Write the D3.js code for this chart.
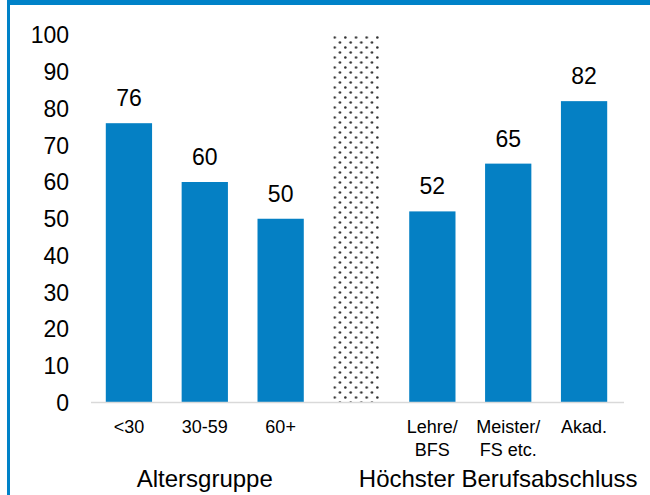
<!DOCTYPE html>
<html>
<head>
<meta charset="utf-8">
<script src="https://cdn.jsdelivr.net/npm/d3@7"></script>
<style>
  body { margin: 0; background: #fff; }
  text { font-family: "Liberation Sans", Arial, sans-serif; fill: #000; }
</style>
</head>
<body>
<div id="wrapper"></div>
<script>
// data
const categories = ['<30', '30-59', '60+', 'sep', 'Lehre/\nBFS', 'Meister/\nFS etc.', 'Akad.']
const values = [76, 60, 50, null, 52, 65, 82]
const groupNames = ['Altersgruppe', 'Höchster Berufsabschluss']
const groupOf = [0, 0, 0, null, 1, 1, 1]
const yTicks = [0, 10, 20, 30, 40, 50, 60, 70, 80, 90, 100]

const blue = '#0580c4'

const width = 650
const height = 495

const svg = d3.select('#wrapper')
  .append('svg')
    .attr('width', width)
    .attr('height', height)

// frame
svg.append('rect')
  .attr('x', 7).attr('y', 0)
  .attr('width', width - 7).attr('height', 5)
  .attr('fill', '#0082c8')
svg.append('rect')
  .attr('x', 7).attr('y', 0)
  .attr('width', 3).attr('height', height)
  .attr('fill', '#0082c8')

// scales
const xScale = d3.scaleBand()
  .domain(categories)
  .range([91, 622])
  .paddingInner(0.39)
  .paddingOuter(0.195)

const yScale = d3.scaleLinear()
  .domain([0, 100])
  .range([402.5, 35])

// dotted pattern for separator column
const defs = svg.append('defs')
const pattern = defs.append('pattern')
  .attr('id', 'dots')
  .attr('patternUnits', 'userSpaceOnUse')
  .attr('x', xScale('sep'))
  .attr('y', yScale(100))
  .attr('width', 10.67)
  .attr('height', 10)
pattern.append('circle').attr('cx', 1.3).attr('cy', 2.5).attr('r', 1.3).attr('fill', '#333')
pattern.append('circle').attr('cx', 6.6).attr('cy', 7.5).attr('r', 1.3).attr('fill', '#333')

// y labels
svg.append('g')
  .selectAll('text')
  .data(yTicks)
  .join('text')
    .attr('x', 69)
    .attr('y', d => yScale(d))
    .attr('dy', '0.36em')
    .attr('text-anchor', 'end')
    .style('font-size', '23px')
    .text(d => d)

// separator column
svg.append('rect')
  .attr('x', xScale('sep'))
  .attr('y', yScale(100))
  .attr('width', xScale.bandwidth())
  .attr('height', yScale(0) - yScale(100))
  .attr('fill', 'url(#dots)')

const barData = categories.map((c, i) => ({ c, v: values[i], g: groupOf[i] }))
  .filter(d => d.v !== null)

svg.append('g')
  .selectAll('rect')
  .data(barData)
  .join('rect')
    .attr('x', d => xScale(d.c))
    .attr('y', d => yScale(d.v))
    .attr('width', xScale.bandwidth())
    .attr('height', d => yScale(0) - yScale(d.v))
    .attr('fill', blue)

// value labels
svg.append('g')
  .selectAll('text')
  .data(barData)
  .join('text')
    .attr('x', d => xScale(d.c) + xScale.bandwidth() / 2)
    .attr('y', d => yScale(d.v) - 17)
    .attr('text-anchor', 'middle')
    .style('font-size', '23px')
    .text(d => d.v)

// baseline
svg.append('line')
  .attr('x1', 91).attr('x2', 624)
  .attr('y1', yScale(0)).attr('y2', yScale(0))
  .attr('stroke', '#d9d9d9')
  .attr('stroke-width', 1.5)

// category labels
const catLabels = svg.append('g')
  .selectAll('text')
  .data(barData)
  .join('text')
    .attr('x', d => xScale(d.c) + xScale.bandwidth() / 2)
    .attr('y', 433)
    .attr('text-anchor', 'middle')
    .style('font-size', '18px')

catLabels.selectAll('tspan')
  .data(d => d.c.split('\n'))
  .join('tspan')
    .attr('x', function () { return d3.select(this.parentNode).attr('x') })
    .attr('dy', (d, i) => i === 0 ? 0 : 23)
    .text(d => d)

// group titles
svg.append('g')
  .selectAll('text')
  .data(groupNames)
  .join('text')
    .attr('x', (d, i) => d3.mean(barData.filter(b => b.g === i), b => xScale(b.c) + xScale.bandwidth() / 2) - (i === 1 ? 10 : 0))
    .attr('y', 487)
    .attr('text-anchor', 'middle')
    .style('font-size', '24px')
    .text(d => d)
</script>
</body>
</html>
